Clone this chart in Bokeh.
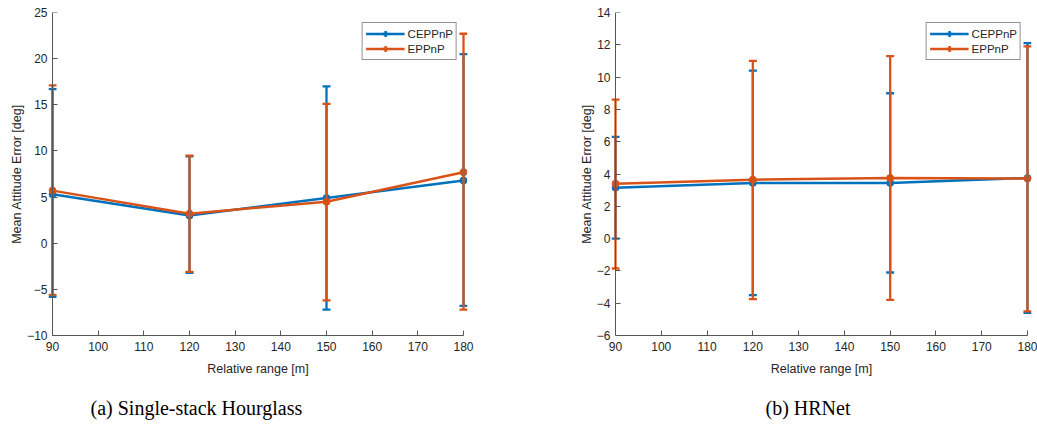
from bokeh.plotting import figure
from bokeh.models import (ColumnDataSource, Whisker, TeeHead, Legend, LegendItem,
                          Range1d, FixedTicker, Title, LinearAxis)
from bokeh.layouts import row
from bokeh.embed import file_html
from bokeh.resources import INLINE

# ---------------- data ----------------
ranges_m = [90, 120, 150, 180]
series_names = ["CEPPnP", "EPPnP"]
x_ticks = [90, 100, 110, 120, 130, 140, 150, 160, 170, 180]
y_ticks_a = [-10, -5, 0, 5, 10, 15, 20, 25]
y_ticks_b = [-6, -4, -2, 0, 2, 4, 6, 8, 10, 12, 14]

# (a) Single-stack Hourglass
hg_ceppnp_mean = [5.3, 3.0, 4.9, 6.8]
hg_ceppnp_upper = [16.7, 9.4, 17.0, 20.5]
hg_ceppnp_lower = [-5.8, -3.2, -7.2, -6.8]
hg_eppnp_mean = [5.7, 3.2, 4.5, 7.7]
hg_eppnp_upper = [17.1, 9.5, 15.1, 22.7]
hg_eppnp_lower = [-5.6, -3.1, -6.2, -7.2]

# (b) HRNet
hr_ceppnp_mean = [3.15, 3.45, 3.45, 3.75]
hr_ceppnp_upper = [6.3, 10.4, 9.0, 12.1]
hr_ceppnp_lower = [0.0, -3.5, -2.1, -4.6]
hr_eppnp_mean = [3.4, 3.65, 3.75, 3.72]
hr_eppnp_upper = [8.6, 11.0, 11.3, 11.9]
hr_eppnp_lower = [-1.85, -3.75, -3.8, -4.5]

captions = ["(a) Single-stack Hourglass", "(b) HRNet"]
x_label = "Relative range [m]"
y_label = "Mean Attitude Error [deg]"
x_bounds = (90, 180)

# ---------------- style ----------------
COLORS = ["#0072BD", "#D95319"]
SANS = "Liberation Sans"
SERIF = "Liberation Serif"
AXIS_COLOR = "#555555"
TEXT_COLOR = "#262626"
PAD = 0.876  # small x padding so the error bars at the ends are not clipped


def style_axis(ax):
    ax.axis_line_color = AXIS_COLOR
    ax.axis_line_width = 1
    ax.major_tick_line_color = AXIS_COLOR
    ax.major_tick_in = 5
    ax.major_tick_out = 0
    ax.minor_tick_line_color = None
    ax.major_label_text_font = SANS
    ax.major_label_text_font_size = "12px"
    ax.major_label_text_color = TEXT_COLOR
    ax.axis_label_text_font = SANS
    ax.axis_label_text_font_size = "12.5px"
    ax.axis_label_text_font_style = "normal"
    ax.axis_label_text_color = TEXT_COLOR


def make_plot(series, yr, yticks, width, min_left, min_right, caption, cap_offset):
    p = figure(width=width, height=435, output_backend="svg", toolbar_location=None,
               x_range=Range1d(x_bounds[0] - PAD, x_bounds[1] + PAD),
               y_range=Range1d(*yr), title=None,
               min_border_left=min_left, min_border_right=min_right,
               min_border_top=12, min_border_bottom=99,
               background_fill_color="white", border_fill_color="white")
    p.outline_line_color = None
    p.xgrid.visible = False
    p.ygrid.visible = False

    items = []
    for (name, mean, upper, lower), color in zip(series, COLORS):
        src = ColumnDataSource(dict(x=ranges_m, y=mean, up=upper, lo=lower))
        w = Whisker(base="x", upper="up", lower="lo", source=src,
                    line_color=color, line_width=2.3,
                    upper_head=TeeHead(size=8, line_color=color, line_width=2.3),
                    lower_head=TeeHead(size=8, line_color=color, line_width=2.3))
        w.level = "glyph"
        p.add_layout(w)
        ln = p.line("x", "y", source=src, line_color=color, line_width=2.5)
        p.scatter("x", "y", source=src, marker="circle", size=7,
                  fill_color=color, line_color=color)
        cr = p.scatter("x", "y", source=src, marker="cross", size=0,
                       line_color=color, line_width=2.5)
        items.append(LegendItem(label=name, renderers=[ln, cr]))

    legend = Legend(items=items, location="top_right", margin=10,
                    border_line_color=TEXT_COLOR, border_line_width=1,
                    background_fill_color="white", background_fill_alpha=1,
                    label_text_font=SANS, label_text_font_size="11.5px",
                    label_text_color=TEXT_COLOR,
                    glyph_width=39, glyph_height=15, label_height=14,
                    padding=3, spacing=0, label_standoff=3)
    p.add_layout(legend)

    # x axis
    xa = p.xaxis[0]
    style_axis(xa)
    xa.ticker = FixedTicker(ticks=x_ticks)
    xa.bounds = x_bounds
    xa.axis_label = x_label
    xa.major_label_standoff = 6
    xa.axis_label_standoff = 8

    # y axis: labels in the side panel, line + ticks drawn at x = 90
    ya = p.yaxis[0]
    style_axis(ya)
    ya.ticker = FixedTicker(ticks=yticks)
    ya.axis_label = y_label
    ya.axis_line_color = None
    ya.major_tick_line_color = None
    ya.major_label_standoff = 1
    ya.axis_label_standoff = 0

    yl = LinearAxis(ticker=FixedTicker(ticks=yticks), fixed_location=x_bounds[0])
    style_axis(yl)
    yl.major_label_text_font_size = "1px"
    yl.major_label_text_alpha = 0
    yl.major_label_standoff = 0
    p.add_layout(yl, "left")

    p.add_layout(Title(text=caption, align="left", offset=cap_offset,
                       text_font=SERIF, text_font_size="20px",
                       text_font_style="normal", text_color="black",
                       standoff=33), "below")
    return p


pa = make_plot([(series_names[0], hg_ceppnp_mean, hg_ceppnp_upper, hg_ceppnp_lower),
                (series_names[1], hg_eppnp_mean, hg_eppnp_upper, hg_eppnp_lower)],
               (-10, 25), y_ticks_a, 518, 48, 51, captions[0], 42)
pb = make_plot([(series_names[0], hr_ceppnp_mean, hr_ceppnp_upper, hr_ceppnp_lower),
                (series_names[1], hr_eppnp_mean, hr_eppnp_upper, hr_eppnp_lower)],
               (-6, 14), y_ticks_b, 519, 93, 6, captions[1], 154)

layout = row(pa, pb)
open("out.html", "w").write(file_html(layout, INLINE))
